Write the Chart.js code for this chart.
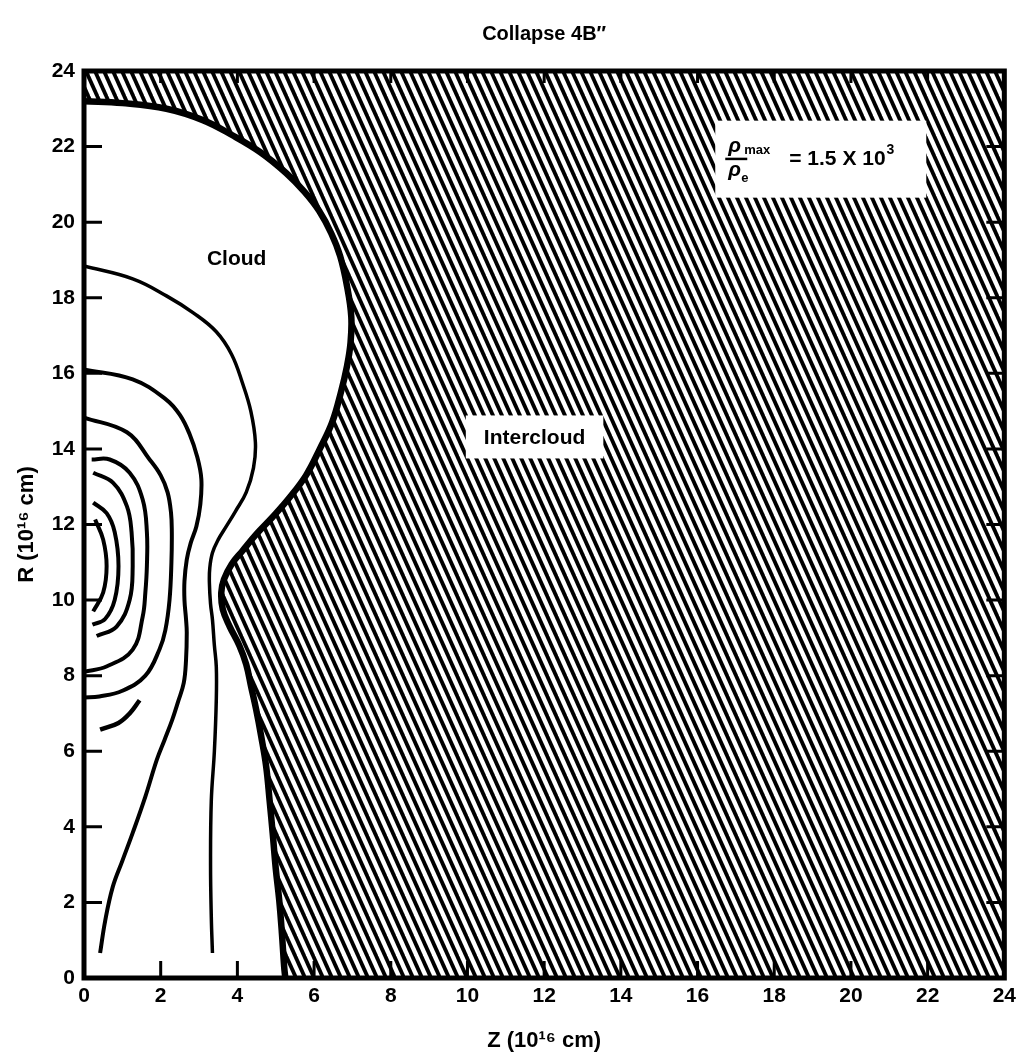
<!DOCTYPE html>
<html lang="en">
<head>
    <meta charset="UTF-8">
    <title>Collapse 4B''</title>
    <script src="https://cdn.jsdelivr.net/npm/chart.js"></script>
    <style>
        html, body { margin: 0; padding: 0; background: #fff; }
        #wrap { width: 1022px; height: 1060px; }
    </style>
</head>
<body>
<div id="wrap"><canvas id="collapse-chart" width="1022" height="1060"></canvas></div>
<script>
    // tick values shared by both axes (Z and R, same units)
    const axisTicks = [0, 2, 4, 6, 8, 10, 12, 14, 16, 18, 20, 22, 24];

    // thick cloud / intercloud boundary, [Z, R]
    const cloudEdge = [
        [0, 23.2], [1.0, 23.15], [2.15, 23.0], [3.1, 22.7], [3.87, 22.3], [4.6, 21.85],
        [5.27, 21.3], [5.75, 20.8], [6.13, 20.3], [6.45, 19.7], [6.68, 19.1], [6.86, 18.3],
        [6.97, 17.5], [6.95, 16.8], [6.86, 16.2], [6.7, 15.5], [6.47, 14.7], [6.15, 14.0],
        [5.79, 13.3], [5.35, 12.7], [4.92, 12.2], [4.5, 11.75], [4.13, 11.3], [3.85, 10.95],
        [3.65, 10.55], [3.58, 10.2], [3.62, 9.75], [3.8, 9.3], [4.05, 8.8], [4.23, 8.3],
        [4.36, 7.7], [4.49, 7.1], [4.62, 6.4], [4.75, 5.6], [4.84, 4.7], [4.92, 3.84],
        [5.0, 2.9], [5.09, 2.07], [5.16, 1.2], [5.22, 0.3], [5.25, 0]
    ];

    // density contours inside the cloud, [Z, R]
    const contour1 = [
        [0, 18.84], [1.27, 18.5], [2.15, 18.05], [2.85, 17.6], [3.45, 17.1], [3.85, 16.5],
        [4.13, 15.75], [4.35, 15.0], [4.47, 14.17], [4.42, 13.5], [4.23, 12.85], [3.95, 12.35],
        [3.71, 11.95], [3.5, 11.6], [3.35, 11.25], [3.28, 10.85], [3.27, 10.46], [3.3, 9.9],
        [3.35, 9.48], [3.4, 8.8], [3.45, 8.24], [3.45, 7.36], [3.4, 6.0], [3.32, 4.7],
        [3.3, 3.0], [3.32, 1.6], [3.35, 0.66]
    ];
    const contour2 = [
        [0, 16.1], [1.27, 15.84], [2.15, 15.3], [2.5, 14.9], [2.75, 14.4], [2.95, 13.8],
        [3.06, 13.2], [3.03, 12.5], [2.93, 11.95], [2.78, 11.5], [2.68, 11.07], [2.62, 10.5],
        [2.62, 10.0], [2.66, 9.5], [2.68, 9.14], [2.66, 8.4], [2.6, 7.8], [2.45, 7.3],
        [2.3, 6.83], [2.1, 6.3], [1.9, 5.78], [1.6, 4.8], [1.27, 3.84], [1.0, 3.1],
        [0.75, 2.41], [0.55, 1.5], [0.42, 0.66]
    ];
    const contour3 = [
        [0, 14.83], [1.12, 14.44], [1.71, 13.72], [2.0, 13.3], [2.18, 12.85], [2.27, 12.3],
        [2.29, 11.8], [2.28, 11.0], [2.23, 10.0], [2.12, 9.2], [1.97, 8.7], [1.6, 8.0],
        [1.0, 7.6], [0.4, 7.45], [0, 7.42]
    ];
    const contour4 = [
        [0.2, 13.72], [0.67, 13.72], [1.19, 13.37], [1.53, 12.66], [1.64, 11.8], [1.64, 10.9],
        [1.6, 10.2], [1.53, 9.56], [1.27, 8.69], [0.6, 8.25], [0, 8.1]
    ];
    const contour5 = [
        [0.24, 13.37], [0.76, 13.1], [1.12, 12.48], [1.24, 11.8], [1.27, 10.9], [1.19, 10.0],
        [0.85, 9.3], [0.33, 9.05]
    ];
    const contour6 = [
        [0.24, 12.58], [0.59, 12.3], [0.8, 11.8], [0.9, 10.9], [0.8, 10.0], [0.55, 9.5], [0.22, 9.35]
    ];
    const contour7 = [
        [0.29, 12.13], [0.5, 11.6], [0.59, 10.9], [0.5, 10.2], [0.24, 9.7]
    ];
    const contour8 = [
        [0.42, 6.57], [0.9, 6.75], [1.19, 7.0], [1.45, 7.35]
    ];

    function toPoints(pairs) {
        return pairs.map(p => ({ x: p[0], y: p[1] }));
    }

    // diagonal hatching for the intercloud medium
    function makeHatch() {
        const w = 9, h = 20;
        const c = document.createElement('canvas');
        c.width = w; c.height = h;
        const g = c.getContext('2d');
        g.fillStyle = '#fff';
        g.fillRect(0, 0, w, h);
        g.strokeStyle = '#000';
        g.lineWidth = 3.8;
        for (let k = -2; k <= 2; k++) {
            g.beginPath();
            g.moveTo(k * w - w / 2, -h / 2);
            g.lineTo(k * w + w * 1.5, h * 1.5);
            g.stroke();
        }
        return g.createPattern(c, 'repeat');
    }

    // intercloud region = boundary closed around the right and top edges
    const intercloud = [[0, 24]].concat(cloudEdge, [[24, 0], [24, 24], [0, 24]]);

    function contourSet(pairs, width) {
        return {
            data: toPoints(pairs),
            showLine: true,
            borderColor: '#000',
            borderWidth: width,
            pointRadius: 0,
            tension: 0.4,
            fill: false,
            order: 1
        };
    }

    const FONT = '"Liberation Sans", Arial, sans-serif';

    const overlay = {
        id: 'overlay',
        afterDatasetsDraw(chart) {
            const { ctx, chartArea: a, scales: { x, y } } = chart;
            ctx.save();
            ctx.fillStyle = '#000';
            ctx.textBaseline = 'alphabetic';

            // chart title, centred over the plot
            ctx.textAlign = 'center';
            ctx.font = 'bold 20px ' + FONT;
            ctx.fillText('Collapse 4B\u2033', (a.left + a.right) / 2, 40);

            // region labels
            ctx.font = 'bold 21px ' + FONT;
            ctx.fillText('Cloud', x.getPixelForValue(3.98), y.getPixelForValue(19.07) + 8);

            const icx = x.getPixelForValue(11.75), icy = y.getPixelForValue(14.33);
            const tw = ctx.measureText('Intercloud').width;
            ctx.fillStyle = '#fff';
            ctx.fillRect(icx - tw / 2 - 18, icy - 21, tw + 36, 43);
            ctx.fillStyle = '#000';
            ctx.fillText('Intercloud', icx, icy + 8);

            // density ratio note
            const bx = x.getPixelForValue(19.2), by = y.getPixelForValue(21.68);
            ctx.fillStyle = '#fff';
            ctx.fillRect(bx - 105, by - 38, 211, 77);
            ctx.fillStyle = '#000';
            ctx.textAlign = 'left';
            const fx = bx - 95;
            ctx.font = 'bold italic 21px ' + FONT;
            ctx.fillText('\u03C1', fx + 3, by - 7);
            ctx.fillText('\u03C1', fx + 3, by + 17);
            ctx.font = 'bold 13px ' + FONT;
            ctx.fillText('max', fx + 19, by - 5);
            ctx.fillText('e', fx + 16, by + 23);
            ctx.fillRect(fx, by - 1, 22, 2.5);
            ctx.font = 'bold 21px ' + FONT;
            ctx.fillText('= 1.5 X 10', fx + 64, by + 6);
            const mw = ctx.measureText('= 1.5 X 10').width;
            ctx.font = 'bold 14px ' + FONT;
            ctx.fillText('3', fx + 65 + mw, by - 5);

            // frame and inward tick marks
            ctx.strokeStyle = '#000';
            ctx.lineWidth = 5;
            ctx.strokeRect(a.left, a.top, a.right - a.left, a.bottom - a.top);
            ctx.lineWidth = 3;
            ctx.beginPath();
            axisTicks.forEach(v => {
                if (v === 0 || v === 24) return;
                const py = y.getPixelForValue(v), px = x.getPixelForValue(v);
                ctx.moveTo(a.left, py); ctx.lineTo(a.left + 18, py);
                ctx.moveTo(a.right, py); ctx.lineTo(a.right - 18, py);
                ctx.moveTo(px, a.bottom); ctx.lineTo(px, a.bottom - 17);
                ctx.moveTo(px, a.top); ctx.lineTo(px, a.top + 12);
            });
            ctx.stroke();
            ctx.restore();
        }
    };

    const tickFont = { family: FONT, size: 21, weight: 'bold' };
    const titleFont = { family: FONT, size: 22, weight: 'bold' };

    const chart = new Chart(document.getElementById('collapse-chart'), {
        type: 'scatter',
        data: {
            datasets: [
                {
                    data: toPoints(intercloud),
                    showLine: true,
                    fill: 'shape',
                    backgroundColor: makeHatch(),
                    borderWidth: 0,
                    pointRadius: 0,
                    tension: 0,
                    order: 5
                },
                contourSet(cloudEdge, 6.5),
                contourSet(contour1, 3.5),
                contourSet(contour2, 4),
                contourSet(contour3, 4),
                contourSet(contour4, 4),
                contourSet(contour5, 4),
                contourSet(contour6, 4),
                contourSet(contour7, 4),
                contourSet(contour8, 4.5)
            ]
        },
        options: {
            responsive: false,
            animation: false,
            layout: { padding: { left: 0, right: 15, top: 71, bottom: 0 } },
            plugins: {
                legend: { display: false },
                tooltip: { enabled: false },
                title: { display: false }
            },
            scales: {
                x: {
                    type: 'linear',
                    min: 0,
                    max: 24,
                    afterBuildTicks: s => { s.ticks = axisTicks.map(v => ({ value: v })); },
                    afterFit: s => { s.height = 82; },
                    grid: { display: false, drawTicks: false },
                    border: { display: false },
                    ticks: { color: '#000', font: tickFont, padding: 6, maxRotation: 0 },
                    title: {
                        display: true,
                        text: 'Z (10\u00B9\u2076 cm)',
                        color: '#000',
                        font: titleFont,
                        padding: { top: 0, bottom: 6 }
                    }
                },
                y: {
                    type: 'linear',
                    min: 0,
                    max: 24,
                    afterBuildTicks: s => { s.ticks = axisTicks.map(v => ({ value: v })); },
                    afterFit: s => { s.width = 84; },
                    grid: { display: false, drawTicks: false },
                    border: { display: false },
                    ticks: { color: '#000', font: tickFont, padding: 9 },
                    title: {
                        display: true,
                        text: 'R (10\u00B9\u2076 cm)',
                        color: '#000',
                        font: titleFont,
                        padding: { top: 14, bottom: 0 }
                    }
                }
            }
        },
        plugins: [overlay]
    });
</script>
</body>
</html>
